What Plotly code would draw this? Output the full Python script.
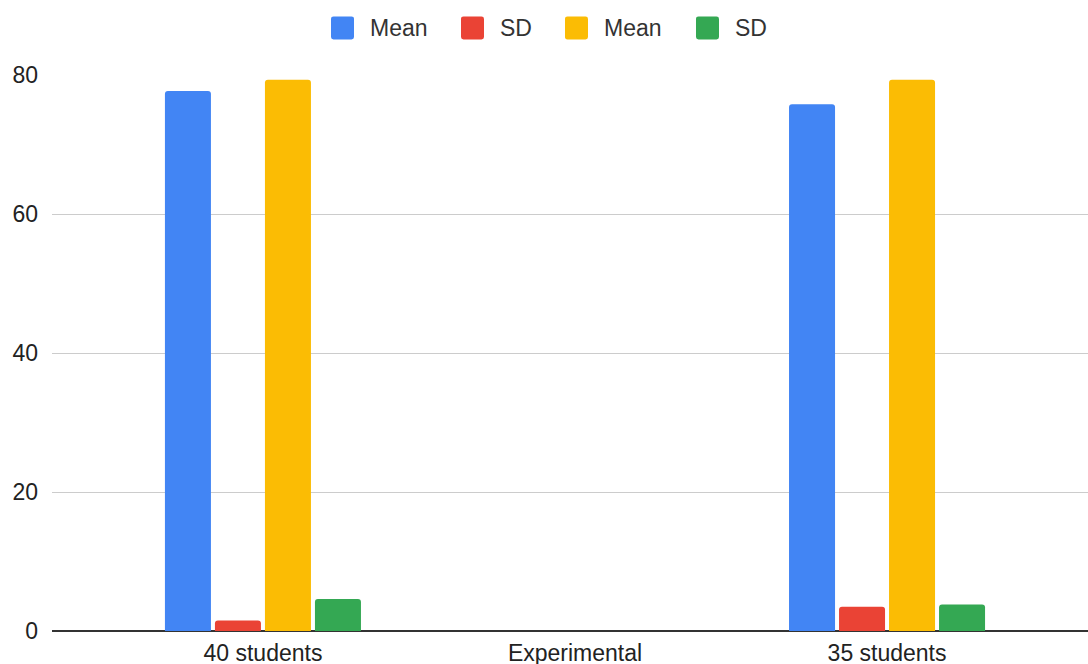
import plotly.graph_objects as go

# Groups along the x axis
categories = ["40 students", "Experimental", "35 students"]

# Series values per group (None = no bar drawn)
series_names = ["Mean", "SD", "Mean", "SD"]
mean_a = [77.7, None, 75.8]
sd_a = [1.5, None, 3.5]
mean_b = [79.3, None, 79.3]
sd_b = [4.6, None, 3.8]
series_values = [mean_a, sd_a, mean_b, sd_b]

y_ticks = [0, 20, 40, 60, 80]

colors = ["#4285F4", "#EA4335", "#FBBC04", "#34A853"]
font_family = "Liberation Sans, Arial, sans-serif"
text_color = "#222222"

W, H = 1088, 664
plot_left, plot_top, plot_bottom = 52, 74.5, 631.5
plot_w = W - plot_left
plot_h = plot_bottom - plot_top


def px_to_paper(px, py):
    return (px - plot_left) / plot_w, (plot_bottom - py) / plot_h


fig = go.Figure()
for name, vals, col in zip(series_names, series_values, colors):
    fig.add_trace(go.Bar(
        x=categories, y=vals, name=name,
        marker=dict(color=col, line=dict(width=0)),
        showlegend=False, hoverinfo="x+y+name",
    ))

# Legend drawn as rounded swatches plus labels across the top
swatch_left = [331, 461, 565, 696]
sw, r = 23, 2.5
for name, col, x0 in zip(series_names, colors, swatch_left):
    a, b, c, d = x0, 16, x0 + sw, 16 + sw
    def P(px, py):
        u, v = px_to_paper(px, py)
        return f"{u:.5f},{v:.5f}"
    path = (f"M{P(a + r, b)} L{P(c - r, b)} Q{P(c, b)} {P(c, b + r)} "
            f"L{P(c, d - r)} Q{P(c, d)} {P(c - r, d)} L{P(a + r, d)} "
            f"Q{P(a, d)} {P(a, d - r)} L{P(a, b + r)} Q{P(a, b)} {P(a + r, b)} Z")
    fig.add_shape(type="path", xref="paper", yref="paper", path=path,
                  fillcolor=col, line=dict(width=0), layer="above")
    tx, ty = px_to_paper(x0 + 37, 27.5)
    fig.add_annotation(
        xref="paper", yref="paper", x=tx, y=ty,
        xanchor="left", yanchor="middle", text=name, showarrow=False,
        font=dict(family=font_family, size=23, color="#333333"),
    )

fig.update_layout(
    width=W, height=H,
    margin=dict(l=plot_left, r=0, t=plot_top, b=H - plot_bottom, autoexpand=False),
    paper_bgcolor="white", plot_bgcolor="white",
    barmode="group", bargap=0.359, bargroupgap=0.08,
    barcornerradius=3,
    showlegend=False,
    font=dict(family=font_family, size=22, color=text_color),
    xaxis=dict(
        type="category", categoryorder="array", categoryarray=categories,
        range=[-0.676, 2.644], automargin=False,
        showgrid=False, showline=False, zeroline=False,
        ticks="", ticklabelstandoff=6,
        tickfont=dict(size=23, color=text_color),
    ),
    yaxis=dict(
        range=[0, 80], tickvals=y_ticks, automargin=False,
        showgrid=True, gridcolor="#cccccc", gridwidth=1,
        zeroline=True, zerolinecolor="#333333", zerolinewidth=1.5,
        showline=False, ticks="", ticklabelstandoff=13,
        tickfont=dict(size=23, color=text_color),
    ),
)

fig.write_html("out.html")
